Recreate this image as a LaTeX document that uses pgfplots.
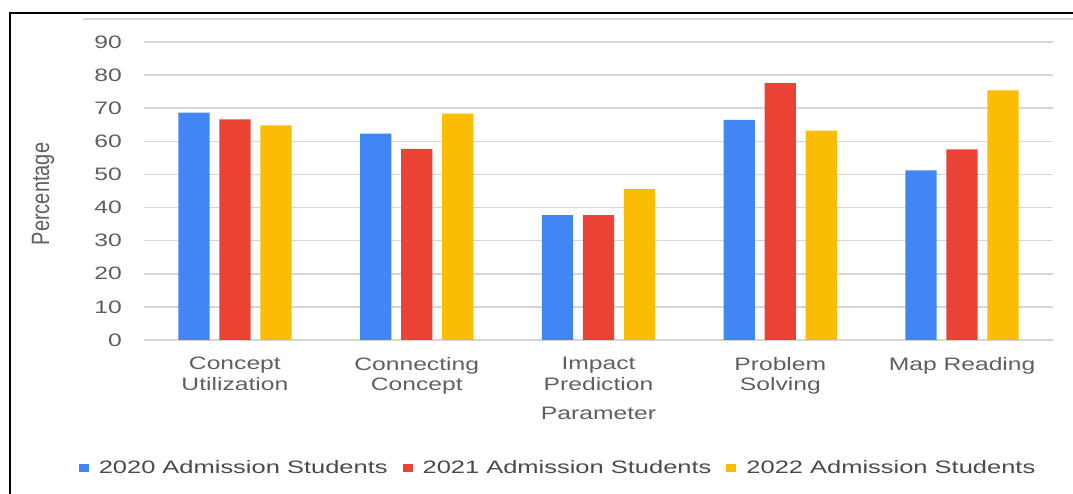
\documentclass[border=0pt]{standalone}
\usepackage{pgfplots}
\pgfplotsset{compat=1.18}
\usepackage{fontspec}
\newfontfamily\cf{Liberation Sans}[FakeStretch=1.37]
\newfontfamily\cfl{Liberation Sans}[FakeStretch=1.415]
\newfontfamily\cfn{Liberation Sans}
\definecolor{c20}{HTML}{4285F4}
\definecolor{c21}{HTML}{EA4335}
\definecolor{c22}{HTML}{FBBC04}
\definecolor{gridc}{HTML}{D6D6D6}
\definecolor{tickc}{HTML}{5F5F5F}
\definecolor{legc}{HTML}{4A4A4A}
\begin{document}
\begin{tikzpicture}
\useasboundingbox (0,0) rectangle (1073pt,494pt);
\begin{scope}
\clip (0,0) rectangle (1073pt,494pt);
\draw[line width=2pt,black] (9.5pt,-30pt) rectangle (1110pt,481.3pt);
\draw[gridc,line width=1.2pt] (83pt,475pt) -- (1080pt,475pt);
\end{scope}
\begin{axis}[
  at={(144pt,154pt)}, anchor=south west,
  scale only axis, width=909pt, height=298pt,
  xmin=-0.5, xmax=4.5, ymin=0, ymax=90,
  ytick={0,10,...,90},
  xtick={0,1,2,3,4},
  xticklabels={{Concept\\Utilization},{Connecting\\Concept},{Impact\\Prediction},{Problem\\Solving},{Map Reading}},
  axis line style={draw=none},
  tick style={draw=none},
  ymajorgrids, major grid style={gridc,line width=1.6pt},
  /pgf/number format/assume math mode=true,
  yticklabel style={font=\cf\fontsize{18}{20}\selectfont, text=tickc, anchor=east, inner sep=0pt, xshift=-22pt},
  xticklabel style={font=\cf\fontsize{18}{20.5}\selectfont, text=tickc, align=center, anchor=north, inner sep=0pt, yshift=-17pt},
  xlabel={Parameter},
  xlabel style={font=\cf\fontsize{18}{20}\selectfont, text=tickc, at={(axis description cs:0.5,0)}, anchor=base, yshift=-80pt},
  ylabel={\scalebox{1}[1.25]{Percentage}},
  ylabel style={font=\cfn\fontsize{20}{22}\selectfont, text=tickc, at={(axis description cs:-0.1111,0.49)}, anchor=center},
  legend columns=3,
  legend style={at={(axis description cs:0.4555,-0.43)}, anchor=center, draw=none, fill=none,
    font=\cfl\fontsize{18}{20}\selectfont, text=legc,
    nodes={inner sep=2pt},
    /tikz/every odd column/.append style={column sep=8pt},
    /tikz/every even column/.append style={column sep=13pt}},
]
\addplot[ybar, bar width=0.172, bar shift=0pt, fill=c20, draw=none,
  legend image code/.code={\fill[c20] (0pt,-4pt) rectangle (10pt,4pt);}]
  coordinates {(-0.2255,68.7) (0.7745,62.3) (1.7745,37.7) (2.7745,66.5) (3.7745,51.2)};
\addlegendentry{2020 Admission Students}
\addplot[ybar, bar width=0.172, bar shift=0pt, fill=c21, draw=none,
  legend image code/.code={\fill[c21] (0pt,-4pt) rectangle (10pt,4pt);}]
  coordinates {(0,66.6) (1,57.7) (2,37.7) (3,77.6) (4,57.6)};
\addlegendentry{2021 Admission Students}
\addplot[ybar, bar width=0.172, bar shift=0pt, fill=c22, draw=none,
  legend image code/.code={\fill[c22] (0pt,-4pt) rectangle (10pt,4pt);}]
  coordinates {(0.2255,64.8) (1.2255,68.4) (2.2255,45.6) (3.2255,63.2) (4.2255,75.4)};
\addlegendentry{2022 Admission Students}
\end{axis}
\end{tikzpicture}
\end{document}
